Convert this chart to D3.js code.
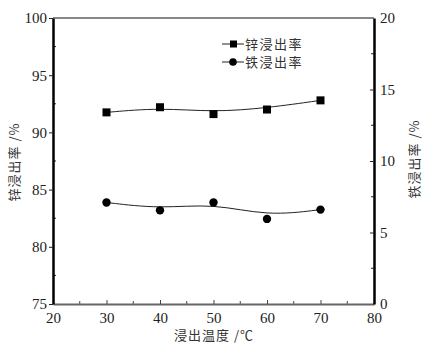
<!DOCTYPE html>
<html>
<head>
<meta charset="utf-8">
<script src="https://cdn.jsdelivr.net/npm/d3@7"></script>
<style>
  body { margin: 0; background: #fff; }
  .cn { font-family: "Noto Sans CJK SC", sans-serif; font-size: 13px; fill: #333; }
  svg .tick text { font-family: "Liberation Serif", "DejaVu Serif", serif !important; font-size: 15px; fill: #222; }
</style>
</head>
<body>
<script>
// data
var temps = [30, 40, 50, 60, 70];
var zinc = [91.75, 92.2, 91.6, 92.0, 92.8];
var iron = [7.1, 6.55, 7.1, 5.95, 6.6];
var xTicks = [20, 30, 40, 50, 60, 70, 80];
var leftTicks = [75, 80, 85, 90, 95, 100];
var rightTicks = [0, 5, 10, 15, 20];

var margins = {top: 18, bottom: 44, left: 53, right: 65};
var width = 439, height = 348;

var svg = d3.select("body").append("svg")
  .attr("width", width)
  .attr("height", height);

var xScale = d3.scaleLinear().domain([20, 80]).range([margins.left, width - margins.right]);
var yLeft = d3.scaleLinear().domain([75, 100]).range([height - margins.bottom, margins.top]);
var yRight = d3.scaleLinear().domain([0, 20]).range([height - margins.bottom, margins.top]);

var x0 = margins.left, x1 = width - margins.right;
var y0 = height - margins.bottom, y1 = margins.top;

// minor ticks (inside)
var g = svg.append("g");
[77.5, 82.5, 87.5, 92.5, 97.5].forEach(function(v) {
  g.append("line").attr("x1", x0).attr("x2", x0 + 3).attr("y1", yLeft(v)).attr("y2", yLeft(v))
    .attr("stroke", "#222").attr("stroke-width", 1);
});
[2.5, 7.5, 12.5, 17.5].forEach(function(v) {
  g.append("line").attr("x1", x1).attr("x2", x1 - 3).attr("y1", yRight(v)).attr("y2", yRight(v))
    .attr("stroke", "#222").attr("stroke-width", 1);
});
[25, 35, 45, 55, 65, 75].forEach(function(v) {
  g.append("line").attr("x1", xScale(v)).attr("x2", xScale(v)).attr("y1", y0).attr("y2", y0 - 3)
    .attr("stroke", "#444").attr("stroke-width", 1);
});

// top frame line
svg.append("line").attr("x1", x0).attr("x2", x1).attr("y1", y1).attr("y2", y1)
  .attr("stroke", "#111").attr("stroke-width", 1.2);

// axes
var xAxis = d3.axisBottom(xScale).tickValues(xTicks).tickSizeInner(-4).tickSizeOuter(0).tickPadding(8);
var gx = svg.append("g").attr("transform", "translate(0," + y0 + ")").call(xAxis);
gx.select(".domain").attr("stroke", "#666").attr("stroke-width", 2.2);
gx.selectAll(".tick line").attr("stroke", "#444");
gx.selectAll(".tick").filter(function(d) { return d == 20 || d == 80; }).select("line").remove();

var gl = svg.append("g").attr("transform", "translate(" + x0 + ",0)")
  .call(d3.axisLeft(yLeft).tickValues(leftTicks).tickSizeInner(4).tickSizeOuter(0).tickPadding(2));
gl.select(".domain").attr("stroke", "#000").attr("stroke-width", 2.5);
gl.selectAll(".tick line").attr("stroke", "#222");

var gr = svg.append("g").attr("transform", "translate(" + x1 + ",0)")
  .call(d3.axisRight(yRight).tickValues(rightTicks).tickSizeInner(-4).tickSizeOuter(0).tickPadding(6));
gr.select(".domain").attr("stroke", "#000").attr("stroke-width", 2.5);
gr.selectAll(".tick line").attr("stroke", "#222");
gr.selectAll(".tick").filter(function(d) { return d == 0 || d == 20; }).select("line").remove();

[gx, gl, gr].forEach(function(a) {
  a.attr("font-family", null).attr("font-size", null);
});

// curves
var zincData = temps.map(function(t, i) { return {t: t, v: zinc[i]}; });
var ironData = temps.map(function(t, i) { return {t: t, v: iron[i]}; });

var zincLine = d3.line().x(d => xScale(d.t)).y(d => yLeft(d.v)).curve(d3.curveBundle.beta(0.75));
var ironLine = d3.line().x(d => xScale(d.t)).y(d => yRight(d.v)).curve(d3.curveBundle.beta(0.75));

svg.append("path").datum(zincData).attr("d", zincLine)
  .attr("fill", "none").attr("stroke", "#222").attr("stroke-width", 1);
svg.append("path").datum(ironData).attr("d", ironLine)
  .attr("fill", "none").attr("stroke", "#222").attr("stroke-width", 1);

svg.append("g").selectAll("rect").data(zincData).enter().append("rect")
  .attr("x", d => xScale(d.t) - 4).attr("y", d => yLeft(d.v) - 4)
  .attr("width", 8).attr("height", 8).attr("fill", "#000");
svg.append("g").selectAll("circle").data(ironData).enter().append("circle")
  .attr("cx", d => xScale(d.t)).attr("cy", d => yRight(d.v)).attr("r", 4.2).attr("fill", "#000");

// legend
var legend = svg.append("g");
[["锌浸出率", "square", 44], ["铁浸出率", "circle", 62]].forEach(function(item) {
  var ly = item[2];
  legend.append("line").attr("x1", 222).attr("x2", 244).attr("y1", ly).attr("y2", ly)
    .attr("stroke", "#222").attr("stroke-width", 1);
  if (item[1] == "square") {
    legend.append("rect").attr("x", 230).attr("y", ly - 3.5).attr("width", 7).attr("height", 7).attr("fill", "#000");
  } else {
    legend.append("circle").attr("cx", 233).attr("cy", ly).attr("r", 3.8).attr("fill", "#000");
  }
  legend.append("text").attr("class", "cn").attr("x", 245).attr("y", ly + 5)
    .attr("letter-spacing", 1.5).text(item[0]);
});

// axis titles
svg.append("text").attr("class", "cn")
  .attr("transform", "translate(19,162) rotate(-90)")
  .attr("text-anchor", "middle").attr("letter-spacing", 1)
  .text("锌浸出率 /%");
svg.append("text").attr("class", "cn")
  .attr("transform", "translate(419,159) rotate(-90)")
  .attr("text-anchor", "middle").attr("letter-spacing", 1)
  .text("铁浸出率 /%");
svg.append("text").attr("class", "cn")
  .attr("x", 214).attr("y", 340)
  .attr("text-anchor", "middle").attr("letter-spacing", 1)
  .text("浸出温度 /℃");
</script>
</body>
</html>
